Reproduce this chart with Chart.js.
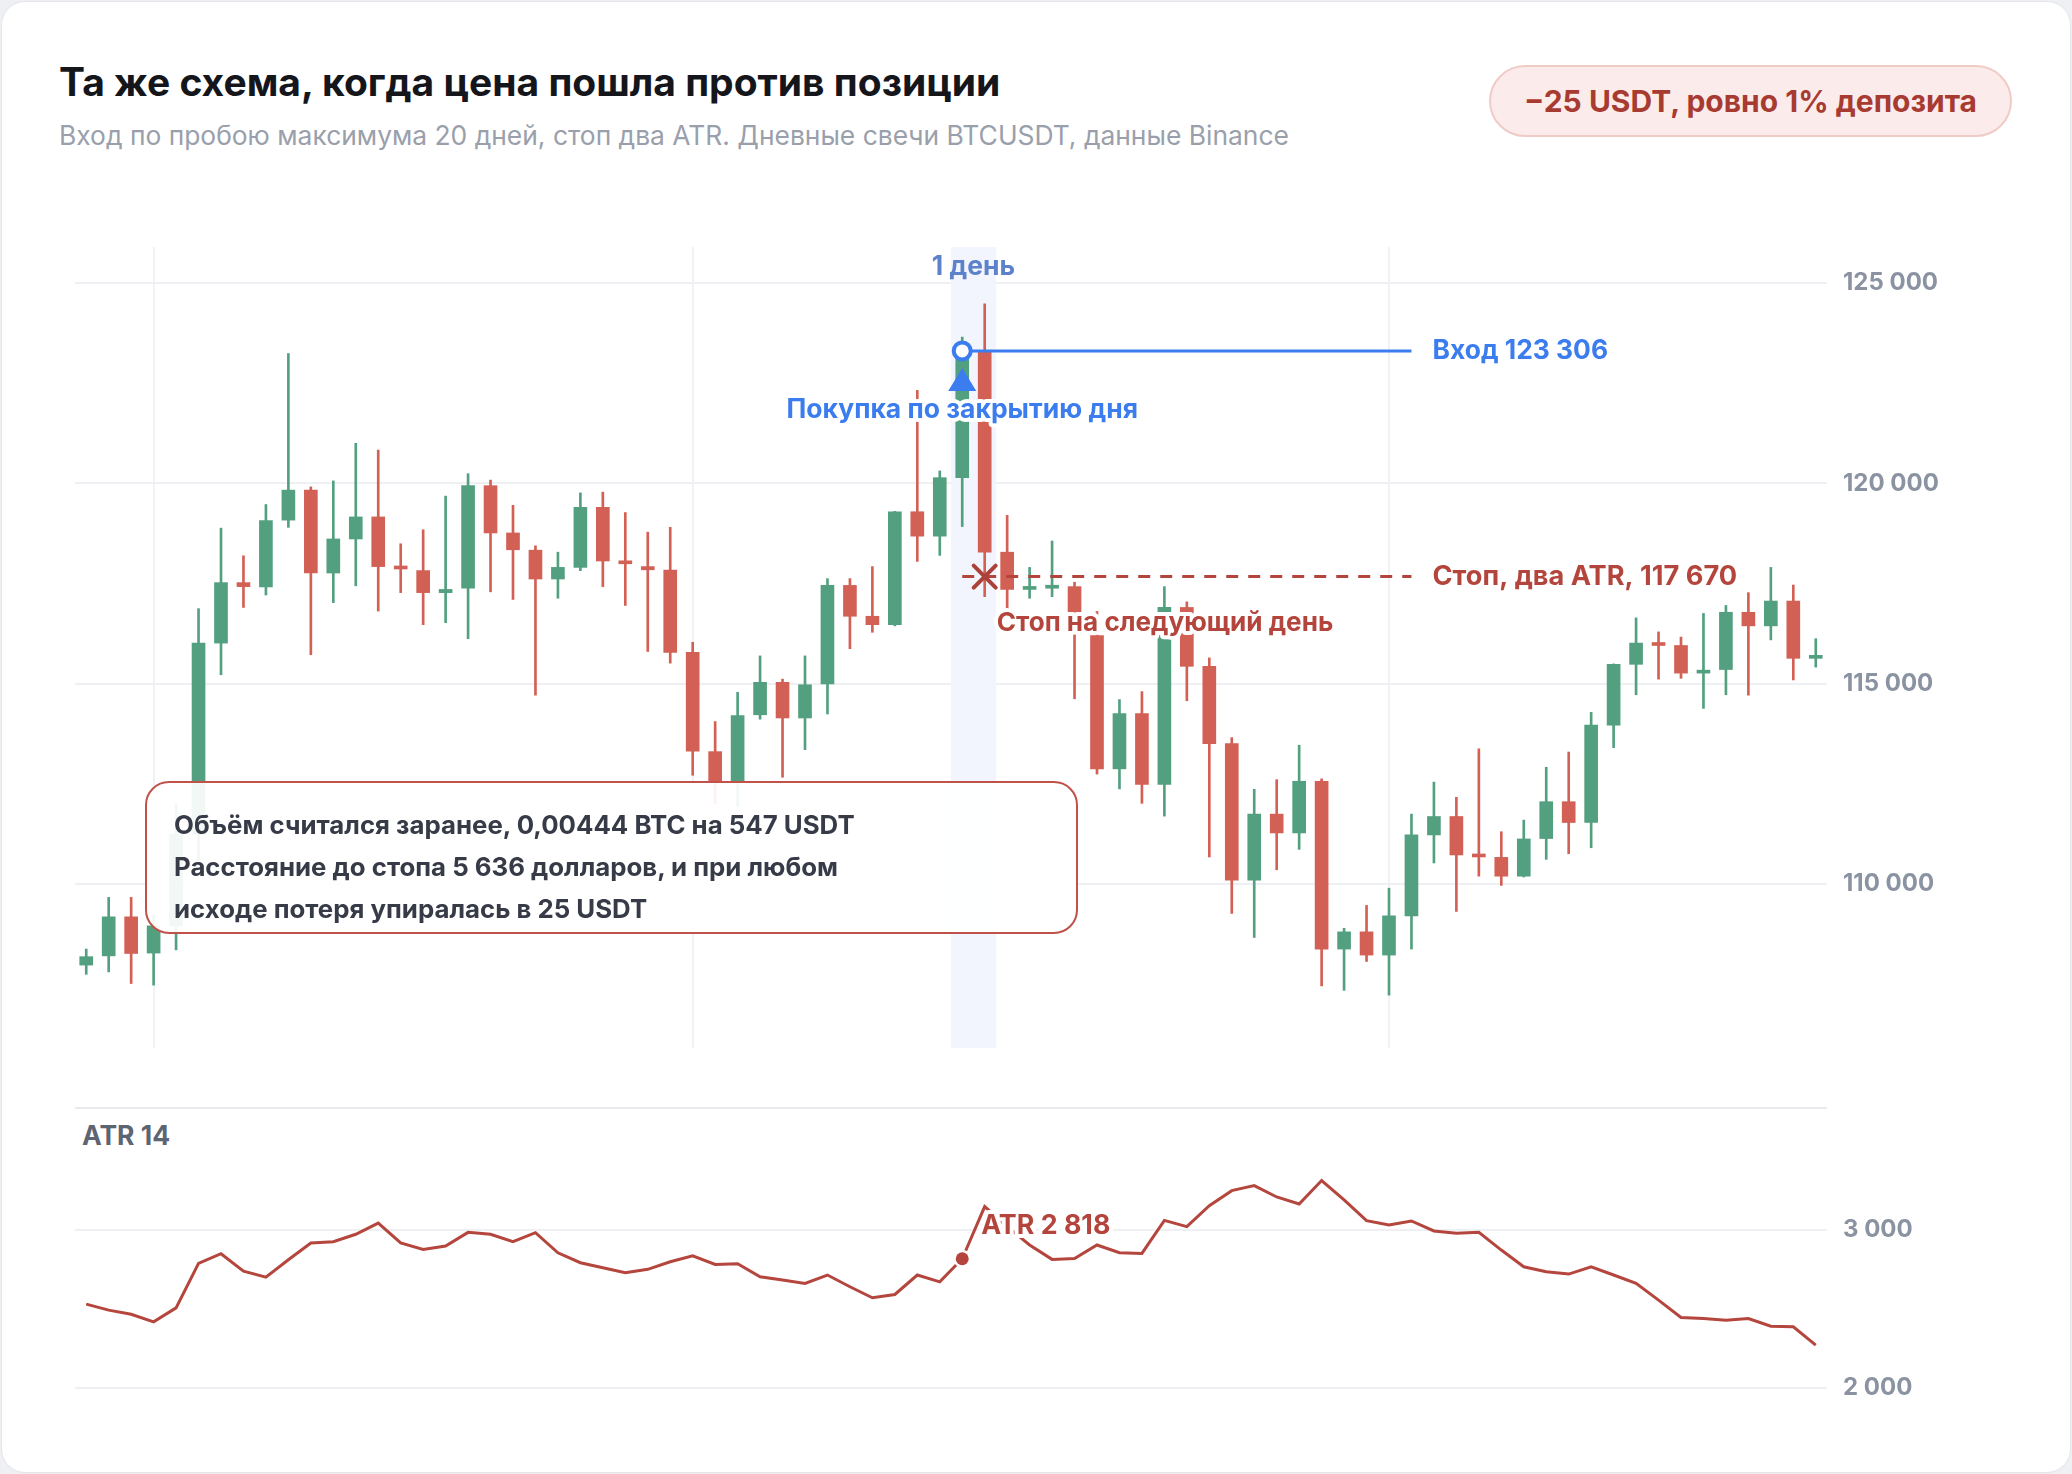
<!DOCTYPE html>
<html lang="ru"><head><meta charset="utf-8">
<script src="https://cdn.jsdelivr.net/npm/chart.js@4.4.1/dist/chart.umd.min.js"></script>
<style>
html,body{margin:0;padding:0;background:#eef0f3;}
body{width:2072px;height:1474px;position:relative;overflow:hidden;font-family:Inter,"Noto Sans",sans-serif;}
#card{position:absolute;left:1px;top:1px;width:2068px;height:1470px;background:#fff;border:1px solid #e3e5e9;border-radius:24px;}
#title{position:absolute;left:59px;top:62px;font-size:39px;line-height:39px;font-weight:700;color:#14161c;white-space:nowrap;}
#subtitle{position:absolute;left:59px;top:122px;font-size:26.4px;line-height:26.4px;color:#9aa0ab;white-space:nowrap;}
#badge{position:absolute;left:1489px;top:65px;width:523px;height:72px;box-sizing:border-box;border:2px solid #f0cbc6;background:#fbeceb;border-radius:36px;color:#a83b31;font-weight:700;font-size:30px;display:flex;align-items:center;justify-content:center;white-space:nowrap;}
canvas{position:absolute;left:0;}
#main{top:0;}
#atr{top:1100px;}
#sep{position:absolute;left:75px;top:1107px;width:1752px;height:2px;background:#e8eaee;}
#atrLabel{position:absolute;left:82px;top:1122px;font-size:26.5px;line-height:26.5px;font-weight:700;color:#5d6472;}
#note{position:absolute;left:145px;top:781px;width:933px;height:153px;box-sizing:border-box;border:2.5px solid #c0524a;border-radius:24px;background:rgba(255,255,255,0.92);padding:21px 0 0 27px;color:#363b47;font-weight:700;font-size:25.8px;line-height:42px;white-space:nowrap;}
</style></head>
<body>
<div id="card"></div>
<div id="title">Та же схема, когда цена пошла против позиции</div>
<div id="subtitle">Вход по пробою максимума 20 дней, стоп два ATR. Дневные свечи BTCUSDT, данные Binance</div>
<div id="badge">−25 USDT, ровно 1% депозита</div>
<canvas id="main" width="2072" height="1080"></canvas>
<div id="sep"></div>
<div id="atrLabel">ATR 14</div>
<canvas id="atr" width="2072" height="374"></canvas>
<div id="note">Объём считался заранее, 0,00444 BTC на 547 USDT<br>Расстояние до стопа 5 636 долларов, и при любом<br>исходе потеря упиралась в 25 USDT</div>
<script>
// ---- data ----
const dates = [
 '05.07','06.07','07.07','08.07','09.07','10.07','11.07','12.07','13.07','14.07','15.07','16.07','17.07','18.07',
 '19.07','20.07','21.07','22.07','23.07','24.07','25.07','26.07','27.07','28.07','29.07','30.07','31.07',
 '01.08','02.08','03.08','04.08','05.08','06.08','07.08','08.08','09.08','10.08','11.08','12.08','13.08','14.08',
 '15.08','16.08','17.08','18.08','19.08','20.08','21.08','22.08','23.08','24.08','25.08','26.08','27.08','28.08',
 '29.08','30.08','31.08',
 '01.09','02.09','03.09','04.09','05.09','06.09','07.09','08.09','09.09','10.09','11.09','12.09','13.09','14.09',
 '15.09','16.09','17.09','18.09','19.09','20.09'];
const opens = [107970,108200,109175,108270,108950,111230,116010,117520,117410,119080,119830,117760,118610,119160,
 117920,117820,117270,117380,119940,118760,118330,117610,117900,119400,118060,117920,117830,
 115780,113300,112550,114220,115030,114140,114990,117450,116680,116470,119290,118680,120140,123306,
 118280,117350,117380,117420,116200,112870,114250,112480,116900,115430,113500,110090,111740,111270,
 112560,108370,108800,
 108220,109200,111220,111680,110720,110660,110190,111130,112050,111530,113960,115480,116010,115950,
 115260,115350,116780,116440,117060,115630];
const highs = [108370,109660,109660,109220,112000,116870,118880,118190,119470,123240,119910,120060,121000,120830,
 118490,118840,119680,120240,120080,119450,118440,118280,119760,119780,119270,118780,118900,
 116030,114050,114780,115690,115110,115690,117620,117620,117920,119300,122320,120310,123650,124480,
 119200,117900,118560,117530,116800,114600,114800,117420,117040,115640,113650,112360,112600,113460,
 112620,108890,109460,
 109890,111740,112540,112160,113370,111300,111590,112910,113290,114280,115490,116640,116290,116160,
 116750,116950,117270,117900,117460,116120];
const lows = [107740,107800,107510,107470,108350,110580,115220,116900,117210,118900,115720,117020,117440,116810,
 117270,116470,116520,116120,117290,117100,114710,117130,117820,117420,116950,115800,115510,
 112710,112000,111920,114110,112660,113350,114240,115870,116280,116440,118050,118200,118920,117170,
 116870,117130,117170,114620,112740,112370,112010,111690,114570,110670,109260,108660,110350,110860,
 107450,107340,108060,
 107220,108370,110520,109310,110190,109960,110170,110610,110750,110900,113400,114720,115110,115130,
 114380,114720,114710,116090,115090,115410];
const closes = [108180,109175,108260,108950,111230,116010,117520,117420,119070,119830,117760,118610,119160,117920,
 117860,117270,117350,119940,118760,118340,117610,117900,119400,118060,117990,117840,115780,
 113310,112550,114200,115030,114140,114970,117450,116680,116470,119290,118680,120140,123306,118280,
 117350,117420,117420,116720,112870,114250,112480,116900,115430,113500,110090,111740,111270,112560,
 108370,108800,108220,
 109200,111220,111680,110720,110670,110190,111120,112050,111530,113960,115480,116010,115950,115260,
 115310,116780,116440,117060,115630,115700];
const atr14 = [2531,2493,2467,2419,2507,2789,2850,2740,2702,2812,2918,2926,2973,3044,2918,2877,2899,2985,2973,2926,
 2983,2856,2793,2761,2729,2751,2799,2837,2782,2786,2704,2683,2662,2715,2641,2571,2592,2715,2672,2818,
 3148,3021,2905,2814,2820,2905,2856,2852,3061,3021,3154,3249,3281,3209,3165,3313,3190,3059,3032,3057,
 2994,2979,2985,2873,2767,2736,2721,2767,2715,2662,2556,2446,2440,2429,2440,2391,2387,2271];
const priceTicks = [110000,115000,120000,125000];
const atrTicks = [2000,3000];
const monthGridDates = ['08.07','01.08','01.09'];
const entryDate = '13.08', entryPrice = 123306;
const stopDate = '14.08', stopPrice = 117670;
const levelEndDate = '02.09';
const entryAtr = 2818;

// ---- helpers ----
const GREEN = '#52a07f', RED = '#d36055';
const BLUE = '#3b7cee', STOPRED = '#b4453c';
const fmt = v => String(Math.round(v)).replace(/\B(?=(\d{3})+(?!\d))/g, ' ');
const candleColors = opens.map((o,i)=> closes[i] >= o ? GREEN : RED);
const FONT = 'Inter, "Noto Sans", sans-serif';
function haloText(ctx, text, x, y, color, size, align){
  ctx.save();
  ctx.font = '700 ' + size + 'px ' + FONT;
  ctx.textAlign = align; ctx.textBaseline = 'middle';
  ctx.lineJoin = 'round'; ctx.strokeStyle = '#ffffff'; ctx.lineWidth = 8;
  ctx.strokeText(text, x, y);
  ctx.fillStyle = color; ctx.fillText(text, x, y);
  ctx.restore();
}

const bandPlugin = {
  id: 'band',
  beforeDatasetsDraw(chart){
    const {ctx, chartArea, scales:{x}} = chart;
    const i0 = dates.indexOf(entryDate), i1 = dates.indexOf(stopDate);
    const half = (x.getPixelForValue(1) - x.getPixelForValue(0)) / 2;
    ctx.save();
    ctx.fillStyle = '#f2f5fd';
    ctx.fillRect(x.getPixelForValue(i0) - half, chartArea.top, x.getPixelForValue(i1) - x.getPixelForValue(i0) + 2*half, chartArea.bottom - chartArea.top);
    ctx.restore();
  }
};

const annotPlugin = {
  id: 'annot',
  afterDatasetsDraw(chart){
    const {ctx, chartArea, scales:{x, y}} = chart;
    const ie = dates.indexOf(entryDate), is = dates.indexOf(stopDate), iend = dates.indexOf(levelEndDate);
    const ex = x.getPixelForValue(ie), ey = y.getPixelForValue(entryPrice);
    const sx = x.getPixelForValue(is), sy = y.getPixelForValue(stopPrice);
    const endX = x.getPixelForValue(iend);
    ctx.save();
    // band label
    ctx.font = '700 26.5px ' + FONT; ctx.textAlign = 'center'; ctx.textBaseline = 'middle';
    ctx.fillStyle = '#5d82cc';
    ctx.fillText('1 день', (ex + sx) / 2, chartArea.top + 20);
    // stop dashed line
    ctx.strokeStyle = STOPRED; ctx.lineWidth = 3; ctx.setLineDash([12, 10]);
    ctx.beginPath(); ctx.moveTo(ex, sy); ctx.lineTo(endX, sy); ctx.stroke();
    ctx.setLineDash([]);
    // X marker
    ctx.strokeStyle = '#ab4139'; ctx.lineWidth = 4; ctx.lineCap = 'round';
    const r = 11;
    ctx.beginPath(); ctx.moveTo(sx - r, sy - r); ctx.lineTo(sx + r, sy + r);
    ctx.moveTo(sx + r, sy - r); ctx.lineTo(sx - r, sy + r); ctx.stroke();
    // entry line
    ctx.strokeStyle = BLUE; ctx.lineWidth = 3; ctx.lineCap = 'butt';
    ctx.beginPath(); ctx.moveTo(ex, ey); ctx.lineTo(endX, ey); ctx.stroke();
    // triangle
    ctx.fillStyle = BLUE;
    ctx.beginPath(); ctx.moveTo(ex, ey + 17); ctx.lineTo(ex + 14, ey + 40); ctx.lineTo(ex - 14, ey + 40); ctx.closePath(); ctx.fill();
    // circle
    ctx.beginPath(); ctx.arc(ex, ey, 8.5, 0, Math.PI * 2);
    ctx.fillStyle = '#ffffff'; ctx.fill();
    ctx.lineWidth = 4; ctx.strokeStyle = BLUE; ctx.stroke();
    ctx.restore();
    // labels
    haloText(ctx, 'Покупка по закрытию дня', ex, ey + 59, BLUE, 26.5, 'center');
    haloText(ctx, 'Вход ' + fmt(entryPrice), endX + 21, ey, BLUE, 26.4, 'left');
    haloText(ctx, 'Стоп, два ATR, ' + fmt(stopPrice), endX + 21, sy, STOPRED, 27.2, 'left');
    haloText(ctx, 'Стоп на следующий день', sx + 12, sy + 47, STOPRED, 26.1, 'left');
  }
};

new Chart(document.getElementById('main'), {
  type: 'bar',
  data: {
    labels: dates,
    datasets: [
      {label: 'Тело', data: opens.map((o,i)=>[o, closes[i]]), backgroundColor: candleColors, barThickness: 13, minBarLength: 3, grouped: false, order: 0},
      {label: 'Тень', data: lows.map((l,i)=>[l, highs[i]]), backgroundColor: candleColors, barThickness: 2, grouped: false, order: 1}
    ]
  },
  options: {
    responsive: false, animation: false,
    layout: {padding: {left: 75, top: 247, bottom: 32, right: 0}},
    plugins: {legend: {display: false}, tooltip: {enabled: false}},
    scales: {
      x: {offset: true,
          grid: {offset: false, drawTicks: false, lineWidth: 2,
                 color: c => (c.tick && monthGridDates.includes(dates[c.index])) ? '#f1f2f7' : 'rgba(0,0,0,0)'},
          ticks: {display: false}, border: {display: false}},
      y: {position: 'right', min: 105900, max: 125900,
          afterBuildTicks: s => { s.ticks = priceTicks.map(v => ({value: v})); },
          afterFit: s => { s.width = 245; },
          grid: {color: '#eff0f3', lineWidth: 2, drawTicks: false},
          border: {display: false},
          ticks: {padding: 16, color: '#8b93a2', font: {family: FONT, size: 24, weight: '700'}, callback: v => fmt(v)}}
    }
  },
  plugins: [bandPlugin, annotPlugin]
});

const atrPlugin = {
  id: 'atrMark',
  afterDatasetsDraw(chart){
    const {ctx, scales:{x, y}} = chart;
    const i = dates.indexOf(entryDate);
    const px = x.getPixelForValue(i), py = y.getPixelForValue(entryAtr);
    haloText(ctx, 'ATR ' + fmt(entryAtr), px + 19, py - 33, '#b4453c', 26.8, 'left');
    ctx.save();
    ctx.beginPath(); ctx.arc(px, py, 9, 0, Math.PI*2); ctx.fillStyle = '#ffffff'; ctx.fill();
    ctx.beginPath(); ctx.arc(px, py, 6.5, 0, Math.PI*2); ctx.fillStyle = '#b4453c'; ctx.fill();
    ctx.restore();
  }
};

new Chart(document.getElementById('atr'), {
  type: 'line',
  data: {
    labels: dates,
    datasets: [{label: 'ATR 14', data: atr14, borderColor: '#b4463d', borderWidth: 3, pointRadius: 0, tension: 0, fill: false}]
  },
  options: {
    responsive: false, animation: false,
    layout: {padding: {left: 75, top: 66.8, bottom: 70.2, right: 0}},
    plugins: {legend: {display: false}, tooltip: {enabled: false}},
    scales: {
      x: {offset: true, grid: {display: false, drawTicks: false}, ticks: {display: false}, border: {display: false}},
      y: {position: 'right', min: 1900, max: 3400,
          afterBuildTicks: s => { s.ticks = atrTicks.map(v => ({value: v})); },
          afterFit: s => { s.width = 245; },
          grid: {color: '#eff0f3', lineWidth: 2, drawTicks: false},
          border: {display: false},
          ticks: {padding: 16, color: '#8b93a2', font: {family: FONT, size: 24, weight: '700'}, callback: v => fmt(v)}}
    }
  },
  plugins: [atrPlugin]
});
</script>
</body></html>
